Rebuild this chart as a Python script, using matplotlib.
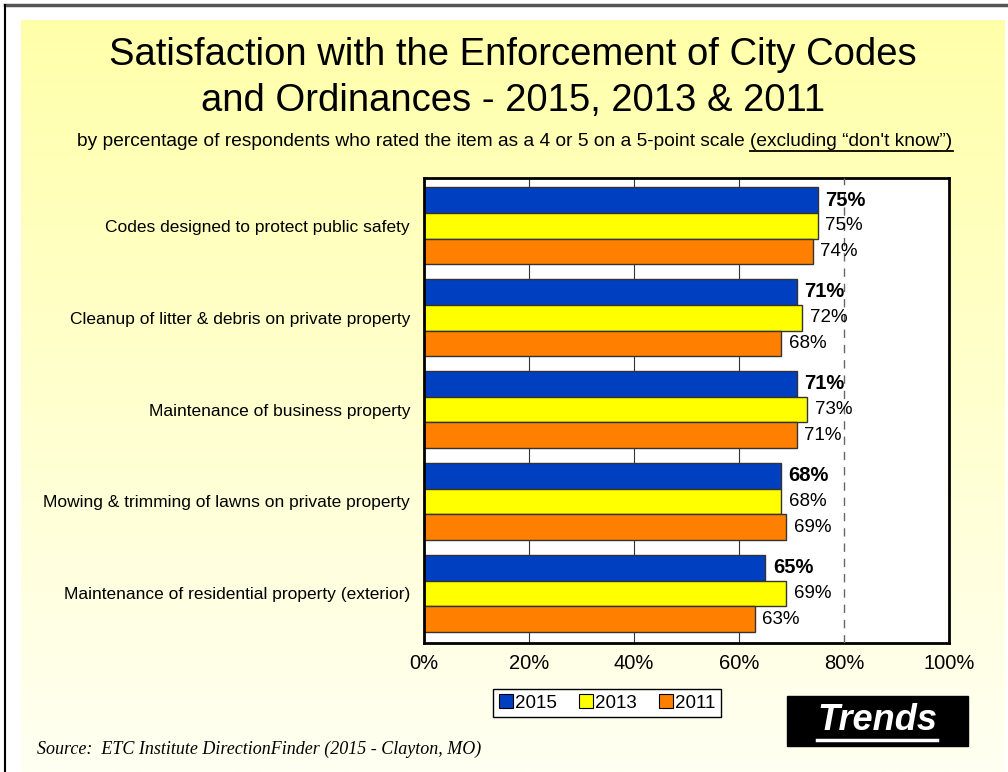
import numpy as np
import matplotlib
matplotlib.use("Agg")
import matplotlib.pyplot as plt
from matplotlib.patches import Rectangle, Patch
from matplotlib.lines import Line2D

plt.rcParams['font.family'] = ['Liberation Sans', 'DejaVu Sans']

# data
categories = [
    "Codes designed to protect public safety",
    "Cleanup of litter & debris on private property",
    "Maintenance of business property",
    "Mowing & trimming of lawns on private property",
    "Maintenance of residential property (exterior)",
]
years = ["2015", "2013", "2011"]
vals_2015 = [75, 71, 71, 68, 65]
vals_2013 = [75, 72, 73, 68, 69]
vals_2011 = [74, 68, 71, 69, 63]
colors = ["#0040C0", "#FFFF00", "#FF8000"]

W, H = 1008, 772
fig = plt.figure(figsize=(W / 100, H / 100), dpi=100)
fig.patch.set_facecolor("white")

# yellow gradient panel
bg = fig.add_axes([21 / W, 0, (1005 - 21) / W, (H - 20) / H], zorder=-10)
grad = np.linspace(0, 1, 256)[:, None]
top = np.array([255, 255, 170]) / 255
bot = np.array([255, 255, 242]) / 255
img = top[None, None, :] * (1 - grad[:, :, None]) + bot[None, None, :] * grad[:, :, None]
bg.imshow(img, aspect="auto", extent=(0, 1, 0, 1))
bg.set_axis_off()

# outer frame lines
fig.add_artist(Line2D([5 / W, 1], [1 - 5 / H, 1 - 5 / H], color="#555555", lw=2.5, transform=fig.transFigure))
fig.add_artist(Line2D([5 / W, 5 / W], [0, 1 - 5 / H], color="black", lw=1.5, transform=fig.transFigure))

# titles
fig.text(513 / W, 1 - 55 / H, "Satisfaction with the Enforcement of City Codes",
         ha="center", va="center", fontsize=27.5)
fig.text(513 / W, 1 - 101 / H, "and Ordinances - 2015, 2013 & 2011",
         ha="center", va="center", fontsize=27.5)

# subtitle with underlined tail
sub1 = "by percentage of respondents who rated the item as a 4 or 5 on a 5-point scale "
sub2 = "(excluding \u201cdon't know\u201d)"
fig.canvas.draw()
r = fig.canvas.get_renderer()
t1 = fig.text(0, 1 - 141 / H, sub1, ha="left", va="center", fontsize=13.8)
t2 = fig.text(0, 1 - 141 / H, sub2, ha="left", va="center", fontsize=13.8)
w1 = t1.get_window_extent(r).width
w2 = t2.get_window_extent(r).width
x0 = 515 - (w1 + w2) / 2
t1.set_x(x0 / W)
t2.set_x((x0 + w1) / W)
fig.add_artist(Line2D([(x0 + w1) / W, (x0 + w1 + w2) / W], [1 - 151 / H, 1 - 151 / H],
                      color="black", lw=1.3, transform=fig.transFigure))

# main chart
ax = fig.add_axes([424 / W, 1 - 643 / H, (949 - 424) / W, (643 - 178) / H])
ax.set_facecolor("white")
y = np.arange(len(categories))
h = 0.28
series = [vals_2015, vals_2013, vals_2011]
for k, (vals, c) in enumerate(zip(series, colors)):
    bars = ax.barh(y + (k - 1) * h, vals, height=h, color=c, edgecolor="#333333", lw=1, zorder=2)
    for b, v in zip(bars, vals):
        ax.annotate(f"{v}%", (v, b.get_y() + b.get_height() / 2), xytext=(5.5, 0),
                    textcoords="offset points", va="center", ha="left",
                    fontsize=14.5 if k == 0 else 13.5,
                    fontweight="bold" if k == 0 else "normal", zorder=4)

for gx in [20, 40, 60]:
    ax.axvline(gx, color="#333333", lw=0.8, zorder=1)
ax.axvline(80, color="#666666", lw=1.0, ls=(0, (6, 5)), zorder=3)

ax.set_xlim(0, 100)
ax.set_ylim(4.54, -0.52)
ax.set_xticks(range(0, 101, 20))
ax.set_xticklabels([f"{t}%" for t in range(0, 101, 20)], fontsize=14.5)
ax.set_yticks(y)
ax.set_yticklabels(categories, fontsize=12.5)
ax.tick_params(axis="y", length=0, pad=10)
ax.tick_params(axis="x", length=0, pad=8)
for s in ax.spines.values():
    s.set_linewidth(2)
    s.set_color("black")

# legend
handles = [Patch(facecolor=c, edgecolor="black", lw=0.8) for c in colors]
leg = fig.legend(handles, years, loc="center", bbox_to_anchor=(607 / W, 1 - 703 / H),
                 ncol=3, fontsize=13.5, handlelength=0.75, handleheight=0.75,
                 handletextpad=0.1, columnspacing=1.2, borderpad=0.3, borderaxespad=0,
                 fancybox=False, framealpha=1, edgecolor="black")
leg.get_frame().set_linewidth(1)
leg._legend_box.sep = 0

# Trends badge
fig.add_artist(Rectangle((787 / W, 1 - 746 / H), (968 - 787) / W, 50 / H,
                         transform=fig.transFigure, facecolor="black", edgecolor="black"))
tt = fig.text(877 / W, 1 - 720 / H, "Trends", ha="center", va="center", color="white",
              fontsize=26, fontweight="bold", fontstyle="italic")
bb = tt.get_window_extent(r)
fig.add_artist(Line2D([bb.x0 / W, bb.x1 / W], [1 - 740 / H, 1 - 740 / H],
                      color="white", lw=2.5, transform=fig.transFigure))

# source
fig.text(37 / W, 1 - 749 / H, "Source:  ETC Institute DirectionFinder (2015 - Clayton, MO)",
         ha="left", va="center", fontsize=13, fontstyle="italic",
         family=["Liberation Serif", "DejaVu Serif"])

fig.savefig("out.png", dpi=100)
